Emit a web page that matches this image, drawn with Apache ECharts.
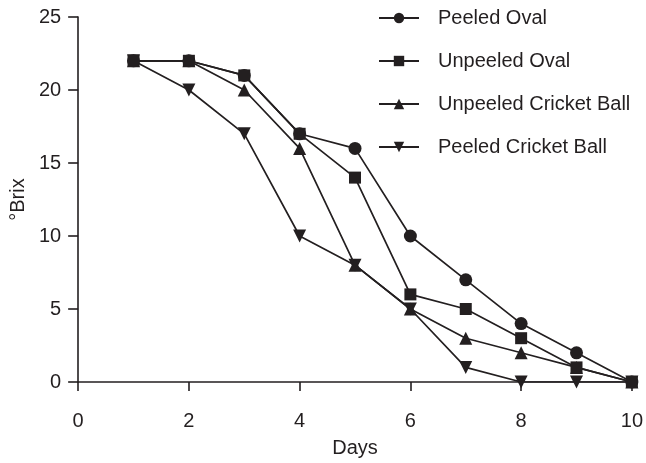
<!DOCTYPE html>
<html>
<head>
<meta charset="utf-8">
<script src="https://cdn.jsdelivr.net/npm/echarts@6/dist/echarts.min.js"></script>
<style>
html,body{margin:0;padding:0;background:#fff;}
#chart{width:646px;height:463px;}
</style>
</head>
<body>
<div id="chart"></div>
<script>
var days = [1, 2, 3, 4, 5, 6, 7, 8, 9, 10];
var peeledOval = [22, 22, 21, 17, 16, 10, 7, 4, 2, 0];
var unpeeledOval = [22, 22, 21, 17, 14, 6, 5, 3, 1, 0];
var unpeeledCricket = [22, 22, 20, 16, 8, 5, 3, 2, 1, 0];
var peeledCricket = [22, 20, 17, 10, 8, 5, 1, 0, 0, 0];
var seriesNames = ['Peeled Oval', 'Unpeeled Oval', 'Unpeeled Cricket Ball', 'Peeled Cricket Ball'];
var xTicks = [0, 2, 4, 6, 8, 10];
var yTicks = [0, 5, 10, 15, 20, 25];

var ink = '#231f20';
var font = 'Liberation Sans, Arial, Helvetica, sans-serif';
function pairs(vals){ return days.map(function(d,i){ return [d, vals[i]]; }); }
var downTri = 'path://M0,0 L10,0 L5,9 Z';

function mk(name, vals, symbol, size, z){
  return {
    name: name, type: 'line', data: pairs(vals),
    symbol: symbol, symbolSize: size, showSymbol: true, z: z,
    lineStyle: {color: ink, width: 1.7},
    itemStyle: {color: ink, borderWidth: 0},
    emphasis: {disabled: true},
    animation: false
  };
}

var chart = echarts.init(document.getElementById('chart'), null, {renderer: 'canvas'});
chart.setOption({
  animation: false,
  grid: {left: 75, right: 9, top: 17, bottom: 70},
  legend: {
    orient: 'vertical', left: 373, top: 3, itemGap: 23,
    itemWidth: 40, itemHeight: 13,
    data: seriesNames,
    textStyle: {fontFamily: font, fontSize: 20, color: ink, padding: [0,0,0,14]},
    inactiveColor: ink
  },
  xAxis: {
    type: 'value', min: xTicks[0], max: xTicks[xTicks.length-1], interval: 2,
    name: 'Days', nameLocation: 'middle', nameGap: 56,
    nameTextStyle: {fontFamily: font, fontSize: 20, color: ink},
    axisLine: {onZero: false, lineStyle: {color: ink, width: 1.6}},
    axisTick: {show: true, length: 9, lineStyle: {color: ink, width: 1.6}},
    axisLabel: {margin: 29, fontFamily: font, fontSize: 20, color: ink},
    splitLine: {show: false}
  },
  yAxis: {
    type: 'value', min: yTicks[0], max: yTicks[yTicks.length-1], interval: 5,
    name: '°Brix', nameLocation: 'middle', nameGap: 43, nameRotate: 90,
    nameTextStyle: {fontFamily: font, fontSize: 20, color: ink},
    axisLine: {show: true, onZero: false, lineStyle: {color: ink, width: 1.6}},
    axisTick: {show: true, length: 10, lineStyle: {color: ink, width: 1.6}},
    axisLabel: {margin: 17, fontFamily: font, fontSize: 20, color: ink},
    splitLine: {show: false}
  },
  series: [
    mk(seriesNames[0], peeledOval, 'circle', 13, 2),
    mk(seriesNames[1], unpeeledOval, 'rect', 12, 5),
    mk(seriesNames[2], unpeeledCricket, 'triangle', 13, 4),
    mk(seriesNames[3], peeledCricket, downTri, 13, 3)
  ]
});
</script>
</body>
</html>
